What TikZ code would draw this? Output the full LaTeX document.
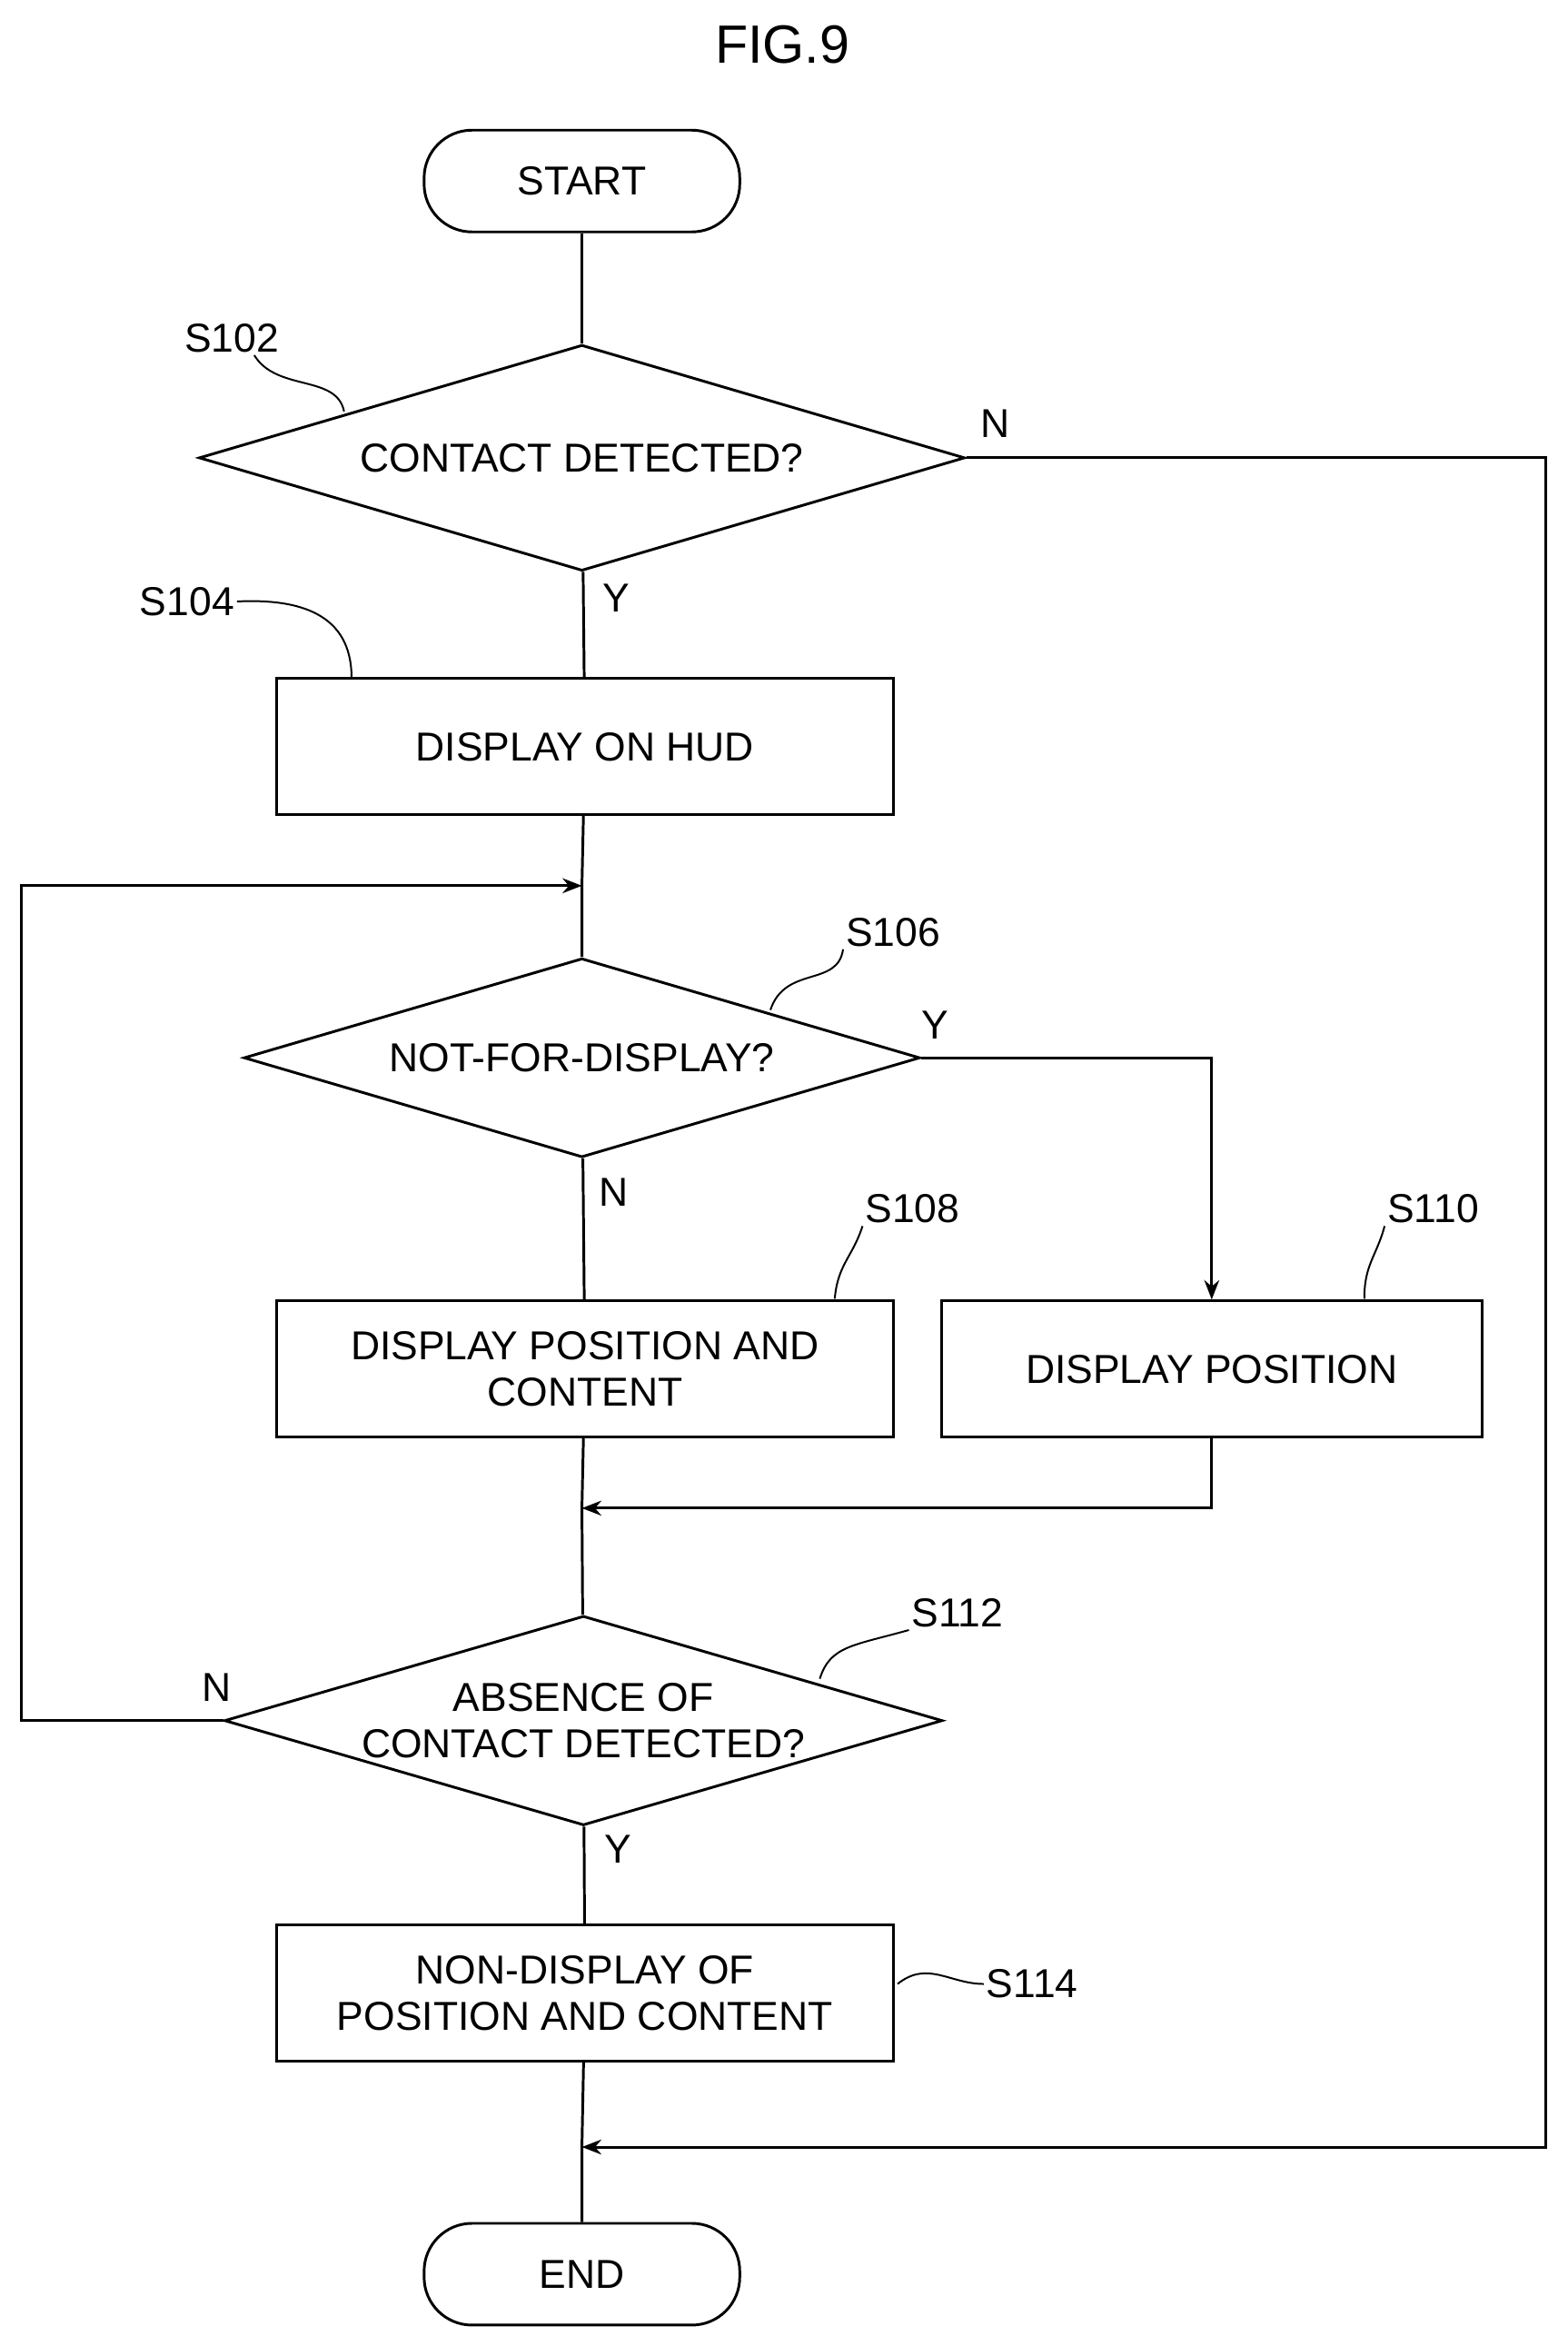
\documentclass[tikz,border=0pt]{standalone}
\usepackage{fontspec}
\setmainfont{Liberation Sans}
\usetikzlibrary{shapes.geometric,arrows.meta}
\begin{document}
\begin{tikzpicture}[x=1pt,y=-1pt,line width=1.8pt,
  every node/.style={font=\fontsize{27}{31}\selectfont},
  box/.style={draw,rectangle,minimum width=412pt,minimum height=91pt,align=center,inner sep=0pt},
  term/.style={draw,rectangle,rounded corners=32pt,minimum width=211pt,minimum height=68pt,inner sep=0pt},
  dia/.style={draw,diamond,aspect=3.4,inner sep=0pt},
  lbl/.style={inner sep=1pt},
  arr/.style={-{Stealth[length=13pt,width=10pt]}},
  lead/.style={line width=1.2pt}]
\useasboundingbox (0,0) rectangle (1048,1568);
\node[font=\fontsize{36}{40}\selectfont] (title) at (523,30) {FIG.9};
\node[term] (start) at (389,121) {START};
\node[dia,minimum width=512pt,minimum height=151pt] (d1) at (389,306) {CONTACT DETECTED?};
\node[box] (b104) at (391,499) {DISPLAY ON HUD};
\coordinate (m1) at (389,592);
\node[dia,minimum width=452pt,minimum height=133pt] (d2) at (389,707) {NOT-FOR-DISPLAY?};
\node[box] (b108) at (391,915) {DISPLAY POSITION AND\\CONTENT};
\node[box,minimum width=361pt] (b110) at (810,915) {DISPLAY POSITION};
\coordinate (m2) at (389,1008);
\node[dia,minimum width=480pt,minimum height=140pt,align=center] (d3) at (390,1150) {ABSENCE OF\\CONTACT DETECTED?};
\node[box] (b114) at (391,1332) {NON-DISPLAY OF\\POSITION AND CONTENT};
\coordinate (m3) at (389,1435);
\node[term] (end) at (389,1520) {END};
% step labels
\node[lbl] (s102) at (155,226) {S102};
\node[lbl] (s104) at (125,402) {S104};
\node[lbl] (s106) at (597,623) {S106};
\node[lbl] (s108) at (610,808) {S108};
\node[lbl] (s110) at (958,808) {S110};
\node[lbl] (s112) at (640,1078) {S112};
\node[lbl] (s114) at (690,1326) {S114};
\draw[lead] (s102.south) ++(15,0) .. controls (185,262) and (225,250) .. (230,275);
\draw[lead] (s104.east) .. controls (200,400) and (235,410) .. (235,453);
\draw[lead] (s106.south west) .. controls (560,660) and (525,645) .. (515,675);
\draw[lead] (s108.south west) .. controls (570,840) and (560,845) .. (558,868);
\draw[lead] (s110.south west) .. controls (920,840) and (912,845) .. (912,868);
\draw[lead] (s112.south west) .. controls (570,1100) and (555,1100) .. (548,1122);
\draw[lead] (s114.west) .. controls (635,1326) and (620,1310) .. (600,1326);
% Y/N
\node at (665,283) {N};
\node at (412,400) {Y};
\node at (625,685) {Y};
\node at (410,797) {N};
\node at (145,1128) {N};
\node at (413,1236) {Y};
% connectors
\draw (start) -- (d1);
\draw (d1) -- (b104);
\draw (b104) -- (m1) -- (d2);
\draw (d2) -- (b108);
\draw[arr] (d2.east) -| (b110.north);
\draw (b108) -- (m2) -- (d3);
\draw[arr] (b110.south) |- (m2);
\draw[arr] (d3.west) -- (14,1150) |- (m1);
\draw (d3) -- (b114);
\draw (b114) -- (m3) -- (end);
\draw[arr] (d1.east) -- (1033,306) |- (m3);
\end{tikzpicture}
\end{document}
